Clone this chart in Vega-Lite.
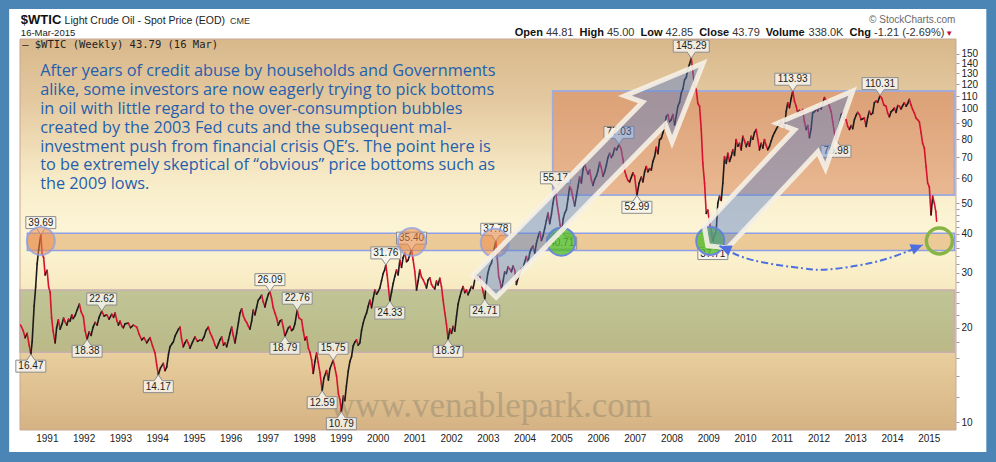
{
"$schema":"https://vega.github.io/schema/vega-lite/v6.json",
"width":936,"height":391,
"autosize":{"type":"none"},
"padding":{"left":20,"top":39,"right":40,"bottom":32},
"background":"#4a85b5",
"config":{"view":{"stroke":null},"font":"Liberation Sans"},
"datasets":{
"price":[
{"t":1990.288,"p":20.4},{"t":1990.356,"p":19.6},{"t":1990.41,"p":18.6},{"t":1990.464,"p":19.2},{"t":1990.519,"p":17.6},{"t":1990.565,"p":16.47},{"t":1990.6,"p":18.0},{"t":1990.655,"p":23.5},{"t":1990.696,"p":27.0},{"t":1990.736,"p":32.0},{"t":1990.777,"p":35.5},{"t":1990.837,"p":39.69},{"t":1990.872,"p":34.5},{"t":1990.913,"p":33.5},{"t":1990.954,"p":29.5},{"t":1991.008,"p":30.5},{"t":1991.049,"p":27.0},{"t":1991.09,"p":26.0},{"t":1991.131,"p":21.5},{"t":1991.171,"p":19.5},{"t":1991.226,"p":17.9},{"t":1991.267,"p":20.0},{"t":1991.315,"p":21.2},{"t":1991.362,"p":19.8},{"t":1991.416,"p":20.6},{"t":1991.457,"p":21.5},{"t":1991.498,"p":20.9},{"t":1991.544,"p":20.4},{"t":1991.593,"p":21.3},{"t":1991.634,"p":21.0},{"t":1991.68,"p":22.0},{"t":1991.715,"p":21.4},{"t":1991.77,"p":21.9},{"t":1991.824,"p":22.8},{"t":1991.886,"p":23.8},{"t":1991.933,"p":22.5},{"t":1991.995,"p":21.7},
{"t":1992.041,"p":19.6},{"t":1992.096,"p":18.38},{"t":1992.15,"p":19.4},{"t":1992.204,"p":18.9},{"t":1992.259,"p":20.1},{"t":1992.313,"p":20.8},{"t":1992.368,"p":20.4},{"t":1992.422,"p":21.6},{"t":1992.495,"p":22.62},{"t":1992.558,"p":21.8},{"t":1992.631,"p":22.0},{"t":1992.694,"p":21.3},{"t":1992.767,"p":22.1},{"t":1992.816,"p":21.6},{"t":1992.857,"p":22.3},{"t":1992.911,"p":21.0},{"t":1992.947,"p":20.4},{"t":1992.993,"p":21.0},
{"t":1993.047,"p":20.2},{"t":1993.083,"p":20.0},{"t":1993.129,"p":20.6},{"t":1993.219,"p":20.7},{"t":1993.278,"p":20.0},{"t":1993.355,"p":20.4},{"t":1993.447,"p":20.1},{"t":1993.51,"p":19.1},{"t":1993.583,"p":18.3},{"t":1993.645,"p":18.6},{"t":1993.719,"p":17.9},{"t":1993.768,"p":18.3},{"t":1993.809,"p":18.6},{"t":1993.877,"p":17.5},{"t":1993.945,"p":16.6},{"t":1993.991,"p":15.2},
{"t":1994.034,"p":14.17},{"t":1994.094,"p":14.9},{"t":1994.17,"p":15.4},{"t":1994.216,"p":14.6},{"t":1994.263,"p":15.0},{"t":1994.312,"p":16.5},{"t":1994.352,"p":17.4},{"t":1994.407,"p":17.8},{"t":1994.442,"p":18.0},{"t":1994.488,"p":18.8},{"t":1994.535,"p":19.3},{"t":1994.584,"p":19.8},{"t":1994.624,"p":20.1},{"t":1994.665,"p":18.5},{"t":1994.714,"p":17.4},{"t":1994.76,"p":17.9},{"t":1994.806,"p":18.3},{"t":1994.855,"p":17.8},{"t":1994.896,"p":17.2},{"t":1994.964,"p":18.0},
{"t":1995.032,"p":18.7},{"t":1995.1,"p":18.1},{"t":1995.168,"p":18.3},{"t":1995.222,"p":18.2},{"t":1995.277,"p":18.7},{"t":1995.331,"p":19.6},{"t":1995.394,"p":20.1},{"t":1995.44,"p":19.3},{"t":1995.486,"p":18.8},{"t":1995.53,"p":18.3},{"t":1995.576,"p":17.6},{"t":1995.622,"p":17.2},{"t":1995.671,"p":17.8},{"t":1995.712,"p":18.3},{"t":1995.758,"p":18.7},{"t":1995.807,"p":17.6},{"t":1995.848,"p":17.9},{"t":1995.894,"p":17.4},{"t":1995.943,"p":18.3},{"t":1995.984,"p":19.2},
{"t":1996.03,"p":20.1},{"t":1996.073,"p":18.9},{"t":1996.12,"p":17.9},{"t":1996.166,"p":19.2},{"t":1996.215,"p":20.8},{"t":1996.256,"p":22.3},{"t":1996.302,"p":23.0},{"t":1996.345,"p":21.9},{"t":1996.392,"p":21.2},{"t":1996.438,"p":20.8},{"t":1996.487,"p":20.2},{"t":1996.527,"p":19.8},{"t":1996.574,"p":21.0},{"t":1996.617,"p":22.8},{"t":1996.663,"p":22.0},{"t":1996.71,"p":23.3},{"t":1996.753,"p":24.5},{"t":1996.799,"p":24.9},{"t":1996.845,"p":25.4},{"t":1996.889,"p":24.2},{"t":1996.935,"p":23.3},{"t":1996.982,"p":24.6},
{"t":1997.03,"p":25.6},{"t":1997.071,"p":26.09},{"t":1997.117,"p":24.8},{"t":1997.161,"p":23.2},{"t":1997.207,"p":22.3},{"t":1997.253,"p":21.5},{"t":1997.297,"p":20.4},{"t":1997.344,"p":21.0},{"t":1997.389,"p":21.2},{"t":1997.433,"p":20.1},{"t":1997.479,"p":18.79},{"t":1997.525,"p":19.4},{"t":1997.574,"p":20.0},{"t":1997.615,"p":20.2},{"t":1997.661,"p":19.6},{"t":1997.705,"p":19.8},{"t":1997.751,"p":20.6},{"t":1997.813,"p":22.76},{"t":1997.86,"p":21.5},{"t":1997.933,"p":21.2},{"t":1997.977,"p":19.6},
{"t":1998.023,"p":18.3},{"t":1998.069,"p":18.7},{"t":1998.118,"p":17.2},{"t":1998.159,"p":16.7},{"t":1998.205,"p":15.8},{"t":1998.249,"p":14.3},{"t":1998.295,"p":15.6},{"t":1998.341,"p":16.6},{"t":1998.384,"p":15.5},{"t":1998.431,"p":14.4},{"t":1998.493,"p":12.59},{"t":1998.539,"p":13.8},{"t":1998.613,"p":14.6},{"t":1998.662,"p":13.6},{"t":1998.702,"p":14.8},{"t":1998.792,"p":15.75},{"t":1998.838,"p":14.9},{"t":1998.885,"p":14.0},{"t":1998.934,"p":12.3},{"t":1998.974,"p":11.8},
{"t":1999.015,"p":10.79},{"t":1999.07,"p":12.1},{"t":1999.11,"p":11.7},{"t":1999.151,"p":13.0},{"t":1999.2,"p":14.5},{"t":1999.246,"p":15.6},{"t":1999.293,"p":16.2},{"t":1999.336,"p":17.5},{"t":1999.382,"p":18.0},{"t":1999.428,"p":18.3},{"t":1999.472,"p":17.6},{"t":1999.518,"p":17.9},{"t":1999.564,"p":19.6},{"t":1999.608,"p":20.7},{"t":1999.654,"p":21.6},{"t":1999.7,"p":22.3},{"t":1999.744,"p":23.4},{"t":1999.79,"p":24.5},{"t":1999.836,"p":23.2},{"t":1999.88,"p":24.8},{"t":1999.926,"p":26.4},{"t":1999.972,"p":25.6},
{"t":2000.016,"p":26.1},{"t":2000.062,"p":26.8},{"t":2000.108,"p":28.3},{"t":2000.152,"p":29.8},{"t":2000.192,"p":30.6},{"t":2000.225,"p":31.76},{"t":2000.26,"p":29.5},{"t":2000.293,"p":27.1},{"t":2000.334,"p":24.33},{"t":2000.38,"p":26.0},{"t":2000.424,"p":27.7},{"t":2000.47,"p":29.2},{"t":2000.516,"p":30.6},{"t":2000.559,"p":29.5},{"t":2000.606,"p":32.9},{"t":2000.652,"p":31.2},{"t":2000.695,"p":33.5},{"t":2000.742,"p":34.6},{"t":2000.788,"p":32.5},{"t":2000.831,"p":32.9},{"t":2000.878,"p":34.3},{"t":2000.924,"p":35.4},{"t":2000.967,"p":33.0},
{"t":2001.014,"p":30.2},{"t":2001.06,"p":26.4},{"t":2001.103,"p":28.2},{"t":2001.149,"p":30.6},{"t":2001.196,"p":29.0},{"t":2001.239,"p":28.5},{"t":2001.285,"p":27.7},{"t":2001.332,"p":26.8},{"t":2001.375,"p":28.4},{"t":2001.421,"p":28.9},{"t":2001.468,"p":27.5},{"t":2001.511,"p":27.0},{"t":2001.557,"p":26.6},{"t":2001.603,"p":28.2},{"t":2001.647,"p":27.4},{"t":2001.693,"p":28.8},{"t":2001.739,"p":27.1},{"t":2001.783,"p":24.5},{"t":2001.83,"p":22.3},{"t":2001.875,"p":20.5},{"t":2001.919,"p":18.37},{"t":2001.966,"p":19.8},
{"t":2002.012,"p":19.2},{"t":2002.055,"p":20.2},{"t":2002.101,"p":19.5},{"t":2002.147,"p":21.7},{"t":2002.191,"p":23.8},{"t":2002.237,"p":25.1},{"t":2002.283,"p":26.2},{"t":2002.327,"p":27.1},{"t":2002.373,"p":25.9},{"t":2002.419,"p":26.4},{"t":2002.463,"p":25.5},{"t":2002.509,"p":26.3},{"t":2002.555,"p":27.1},{"t":2002.598,"p":26.7},{"t":2002.645,"p":28.4},{"t":2002.691,"p":29.5},{"t":2002.734,"p":28.3},{"t":2002.781,"p":29.1},{"t":2002.827,"p":27.6},{"t":2002.876,"p":26.0},{"t":2002.917,"p":24.71},{"t":2002.957,"p":27.5},{"t":2002.998,"p":29.8},
{"t":2003.053,"p":31.5},{"t":2003.099,"p":32.2},{"t":2003.142,"p":34.4},{"t":2003.183,"p":36.0},{"t":2003.216,"p":37.78},{"t":2003.256,"p":33.5},{"t":2003.297,"p":29.1},{"t":2003.338,"p":28.0},{"t":2003.371,"p":26.4},{"t":2003.414,"p":28.2},{"t":2003.46,"p":30.2},{"t":2003.506,"p":29.8},{"t":2003.55,"p":31.3},{"t":2003.596,"p":30.8},{"t":2003.642,"p":30.2},{"t":2003.686,"p":31.5},{"t":2003.732,"p":30.6},{"t":2003.778,"p":27.5},{"t":2003.822,"p":28.8},{"t":2003.868,"p":29.8},{"t":2003.914,"p":30.9},{"t":2003.958,"p":31.0},
{"t":2004.004,"p":32.5},{"t":2004.05,"p":33.8},{"t":2004.094,"p":32.2},{"t":2004.14,"p":34.7},{"t":2004.186,"p":35.8},{"t":2004.23,"p":36.5},{"t":2004.276,"p":34.6},{"t":2004.322,"p":37.2},{"t":2004.366,"p":39.0},{"t":2004.412,"p":40.5},{"t":2004.458,"p":38.0},{"t":2004.502,"p":39.3},{"t":2004.548,"p":41.5},{"t":2004.594,"p":44.0},{"t":2004.638,"p":46.5},{"t":2004.684,"p":43.0},{"t":2004.73,"p":46.0},{"t":2004.773,"p":50.0},{"t":2004.839,"p":55.17},{"t":2004.888,"p":49.5},{"t":2004.929,"p":46.0},{"t":2004.969,"p":42.5},
{"t":2005.01,"p":40.71},{"t":2005.051,"p":44.5},{"t":2005.092,"p":46.5},{"t":2005.138,"p":47.6},{"t":2005.181,"p":51.5},{"t":2005.227,"p":56.5},{"t":2005.274,"p":55.2},{"t":2005.317,"p":52.0},{"t":2005.363,"p":49.0},{"t":2005.41,"p":52.6},{"t":2005.453,"p":56.5},{"t":2005.499,"p":60.6},{"t":2005.546,"p":58.0},{"t":2005.589,"p":64.0},{"t":2005.635,"p":67.0},{"t":2005.682,"p":64.0},{"t":2005.725,"p":62.0},{"t":2005.771,"p":63.8},{"t":2005.817,"p":59.5},{"t":2005.861,"p":57.0},{"t":2005.908,"p":59.6},{"t":2005.953,"p":61.0},{"t":2005.997,"p":63.5},
{"t":2006.044,"p":67.5},{"t":2006.089,"p":65.0},{"t":2006.133,"p":61.0},{"t":2006.179,"p":63.0},{"t":2006.225,"p":66.0},{"t":2006.269,"p":70.0},{"t":2006.315,"p":72.2},{"t":2006.362,"p":70.0},{"t":2006.405,"p":71.5},{"t":2006.451,"p":75.0},{"t":2006.505,"p":74.0},{"t":2006.568,"p":77.03},{"t":2006.628,"p":74.5},{"t":2006.677,"p":69.0},{"t":2006.723,"p":63.5},{"t":2006.769,"p":61.0},{"t":2006.812,"p":59.1},{"t":2006.859,"p":58.5},{"t":2006.905,"p":60.5},{"t":2006.948,"p":62.5},{"t":2006.995,"p":61.0},
{"t":2007.057,"p":52.99},{"t":2007.117,"p":58.0},{"t":2007.177,"p":60.6},{"t":2007.22,"p":58.5},{"t":2007.267,"p":63.0},{"t":2007.313,"p":65.5},{"t":2007.356,"p":63.0},{"t":2007.402,"p":64.5},{"t":2007.449,"p":63.8},{"t":2007.492,"p":68.0},{"t":2007.538,"p":70.4},{"t":2007.585,"p":75.5},{"t":2007.628,"p":72.0},{"t":2007.674,"p":79.8},{"t":2007.72,"p":80.5},{"t":2007.764,"p":83.9},{"t":2007.81,"p":88.0},{"t":2007.856,"p":94.5},{"t":2007.9,"p":96.0},{"t":2007.946,"p":91.0},{"t":2007.992,"p":92.4},
{"t":2008.036,"p":96.0},{"t":2008.082,"p":89.0},{"t":2008.128,"p":95.0},{"t":2008.172,"p":102.0},{"t":2008.218,"p":105.0},{"t":2008.264,"p":112.4},{"t":2008.308,"p":116.0},{"t":2008.354,"p":124.0},{"t":2008.4,"p":126.0},{"t":2008.444,"p":134.0},{"t":2008.489,"p":139.0},{"t":2008.536,"p":145.29},{"t":2008.58,"p":131.0},{"t":2008.626,"p":118.0},{"t":2008.672,"p":115.2},{"t":2008.716,"p":104.0},{"t":2008.762,"p":102.0},{"t":2008.808,"p":86.0},{"t":2008.851,"p":67.0},{"t":2008.898,"p":57.9},{"t":2008.944,"p":46.4},{"t":2008.987,"p":47.5},
{"t":2009.034,"p":43.1},{"t":2009.08,"p":41.0},{"t":2009.123,"p":37.71},{"t":2009.169,"p":39.5},{"t":2009.216,"p":41.0},{"t":2009.259,"p":50.0},{"t":2009.305,"p":52.6},{"t":2009.352,"p":51.0},{"t":2009.395,"p":57.9},{"t":2009.441,"p":70.4},{"t":2009.488,"p":67.0},{"t":2009.531,"p":72.2},{"t":2009.577,"p":68.0},{"t":2009.623,"p":70.4},{"t":2009.667,"p":74.0},{"t":2009.713,"p":71.0},{"t":2009.759,"p":79.8},{"t":2009.803,"p":76.0},{"t":2009.849,"p":77.7},{"t":2009.895,"p":74.0},{"t":2009.939,"p":81.8},{"t":2009.985,"p":79.0},
{"t":2010.031,"p":75.8},{"t":2010.075,"p":78.5},{"t":2010.121,"p":76.0},{"t":2010.168,"p":81.8},{"t":2010.211,"p":80.0},{"t":2010.257,"p":84.0},{"t":2010.304,"p":86.0},{"t":2010.347,"p":80.0},{"t":2010.393,"p":74.0},{"t":2010.439,"p":77.7},{"t":2010.483,"p":75.0},{"t":2010.529,"p":79.8},{"t":2010.575,"p":76.5},{"t":2010.618,"p":74.1},{"t":2010.665,"p":76.0},{"t":2010.711,"p":79.0},{"t":2010.754,"p":81.8},{"t":2010.801,"p":84.0},{"t":2010.847,"p":86.0},{"t":2010.89,"p":88.0},{"t":2010.937,"p":89.0},{"t":2010.983,"p":91.5},
{"t":2011.026,"p":89.0},{"t":2011.072,"p":87.0},{"t":2011.119,"p":98.0},{"t":2011.162,"p":104.7},{"t":2011.208,"p":101.0},{"t":2011.255,"p":108.0},{"t":2011.298,"p":113.93},{"t":2011.344,"p":106.0},{"t":2011.391,"p":102.0},{"t":2011.434,"p":97.0},{"t":2011.48,"p":99.0},{"t":2011.526,"p":97.3},{"t":2011.57,"p":99.6},{"t":2011.616,"p":91.0},{"t":2011.662,"p":86.0},{"t":2011.706,"p":88.5},{"t":2011.752,"p":81.0},{"t":2011.798,"p":86.5},{"t":2011.842,"p":97.3},{"t":2011.888,"p":98.0},{"t":2011.934,"p":99.6},{"t":2011.978,"p":98.5},
{"t":2012.024,"p":102.0},{"t":2012.07,"p":100.0},{"t":2012.114,"p":103.5},{"t":2012.16,"p":108.7},{"t":2012.206,"p":106.5},{"t":2012.25,"p":105.9},{"t":2012.296,"p":102.0},{"t":2012.342,"p":98.0},{"t":2012.386,"p":91.0},{"t":2012.432,"p":84.0},{"t":2012.473,"p":79.98},{"t":2012.522,"p":87.0},{"t":2012.568,"p":90.2},{"t":2012.614,"p":96.0},{"t":2012.658,"p":97.3},{"t":2012.704,"p":92.4},{"t":2012.75,"p":92.4},{"t":2012.793,"p":88.0},{"t":2012.84,"p":86.0},{"t":2012.886,"p":88.5},{"t":2012.93,"p":86.5},{"t":2012.975,"p":92.4},
{"t":2013.022,"p":95.5},{"t":2013.065,"p":97.5},{"t":2013.112,"p":96.0},{"t":2013.158,"p":92.5},{"t":2013.202,"p":93.0},{"t":2013.247,"p":93.5},{"t":2013.293,"p":88.0},{"t":2013.337,"p":94.0},{"t":2013.383,"p":98.4},{"t":2013.429,"p":96.0},{"t":2013.473,"p":97.0},{"t":2013.519,"p":104.7},{"t":2013.565,"p":106.0},{"t":2013.609,"p":105.0},{"t":2013.674,"p":110.31},{"t":2013.723,"p":108.0},{"t":2013.777,"p":103.0},{"t":2013.837,"p":102.0},{"t":2013.881,"p":97.0},{"t":2013.927,"p":94.5},{"t":2013.973,"p":98.0},
{"t":2014.017,"p":99.0},{"t":2014.063,"p":100.7},{"t":2014.109,"p":97.5},{"t":2014.153,"p":102.5},{"t":2014.199,"p":102.0},{"t":2014.245,"p":100.0},{"t":2014.289,"p":102.5},{"t":2014.335,"p":104.7},{"t":2014.381,"p":102.0},{"t":2014.424,"p":104.0},{"t":2014.471,"p":107.3},{"t":2014.517,"p":103.0},{"t":2014.56,"p":99.6},{"t":2014.607,"p":97.0},{"t":2014.653,"p":93.5},{"t":2014.696,"p":92.4},{"t":2014.743,"p":91.0},{"t":2014.789,"p":84.0},{"t":2014.832,"p":77.7},{"t":2014.878,"p":75.0},{"t":2014.925,"p":65.5},{"t":2014.968,"p":58.0},
{"t":2015.014,"p":56.4},{"t":2015.061,"p":45.9},{"t":2015.104,"p":52.6},{"t":2015.15,"p":50.0},{"t":2015.191,"p":47.0},{"t":2015.213,"p":43.79}
],
"labels":[
{"t":1990.837,"p":39.69,"k":"hi","l":"39.69"},{"t":1990.565,"p":16.47,"k":"lo","l":"16.47"},{"t":1992.495,"p":22.62,"k":"hi","l":"22.62"},{"t":1992.096,"p":18.38,"k":"lo","l":"18.38"},{"t":1994.034,"p":14.17,"k":"lo","l":"14.17"},{"t":1997.071,"p":26.09,"k":"hi","l":"26.09"},{"t":1997.479,"p":18.79,"k":"lo","l":"18.79"},{"t":1997.813,"p":22.76,"k":"hi","l":"22.76"},{"t":1998.493,"p":12.59,"k":"lo","l":"12.59"},{"t":1998.792,"p":15.75,"k":"hi","l":"15.75"},{"t":1999.015,"p":10.79,"k":"lo","l":"10.79"},{"t":2000.225,"p":31.76,"k":"hi","l":"31.76"},{"t":2000.334,"p":24.33,"k":"lo","l":"24.33"},{"t":2000.924,"p":35.4,"k":"hi","l":"35.40"},{"t":2001.919,"p":18.37,"k":"lo","l":"18.37"},{"t":2003.216,"p":37.78,"k":"hi","l":"37.78"},{"t":2002.917,"p":24.71,"k":"lo","l":"24.71"},{"t":2004.839,"p":55.17,"k":"hi","l":"55.17"},{"t":2005.01,"p":40.71,"k":"lo","l":"40.71"},{"t":2006.568,"p":77.03,"k":"hi","l":"77.03"},{"t":2007.057,"p":52.99,"k":"lo","l":"52.99"},{"t":2008.536,"p":145.29,"k":"hi6","l":"145.29"},{"t":2009.123,"p":37.71,"k":"lo","l":"37.71"},{"t":2011.298,"p":113.93,"k":"hi6","l":"113.93"},{"t":2012.473,"p":79.98,"k":"lo","l":"79.98"},{"t":2013.674,"p":110.31,"k":"hi6","l":"110.31"}
],
"ohlc":[
{"t":2003.7325,"p":171.1,"s":"Open","k":"name"},{"t":2004.5808,"p":171.1,"s":"44.81","k":"val"},{"t":2005.4943,"p":171.1,"s":"High","k":"name"},{"t":2006.242,"p":171.1,"s":"45.00","k":"val"},{"t":2007.1555,"p":171.1,"s":"Low","k":"name"},{"t":2007.838,"p":171.1,"s":"42.85","k":"val"},{"t":2008.7515,"p":171.1,"s":"Close","k":"name"},{"t":2009.6515,"p":171.1,"s":"43.79","k":"val"},{"t":2010.565,"p":171.1,"s":"Volume","k":"name"},{"t":2011.7287,"p":171.1,"s":"338.0K","k":"val"},{"t":2012.8434,"p":171.1,"s":"Chg","k":"name"},{"t":2013.5096,"p":171.1,"s":"-1.21 (-2.69%)","k":"val"}
]
},
"encoding":{
"x":{"field":"t","type":"quantitative","scale":{"domain":[1990.27,2015.74],"nice":false,"zero":false},
"axis":{"values":[1991,1992,1993,1994,1995,1996,1997,1998,1999,2000,2001,2002,2003,2004,2005,2006,2007,2008,2009,2010,2011,2012,2013,2014,2015],"format":"d","title":null,"grid":false,"domain":false,"ticks":false,"tickSize":0,"labelPadding":3,"labelFontSize":10,"labelColor":"#222222","labelFlush":false,"labelOverlap":false,"zindex":1}},
"y":{"field":"p","type":"quantitative","scale":{"type":"log","domain":[9.43,167.3],"nice":false},
"axis":{"orient":"right","values":[10,12,14,16,18,20,22,24,26,28,30,32,34,36,38,40,42,44,46,48,50,60,70,80,90,100,110,120,130,140,150],"format":"d","labelExpr":"indexof([10,20,30,40,50,60,70,80,90,100,110,120,130,140,150], datum.value) >= 0 ? datum.label : ''","title":null,"grid":false,"domain":false,"tickSize":3,"tickColor":"#9a9a9a","labelPadding":2,"labelFontSize":10,"labelColor":"#222222","labelOverlap":false,"labelBound":false,"zindex":1}}
},
"layer":[
{"data":{"values":[{"t":1989.975,"t2":2016.565,"p":8.02,"p2":208.7}]},"mark":{"type":"rect","fill":"#ffffff"},"encoding":{"x2":{"field":"t2"},"y2":{"field":"p2"}}},
{"data":{"values":[{"t":1990.27,"t2":2015.74,"p":9.43,"p2":167.3}]},"mark":{"type":"rect","fill":{"gradient":"linear","x1":0,"y1":0,"x2":0,"y2":1,"stops":[{"offset":0,"color":"#d8b88b"},{"offset":0.16,"color":"#e4c9a0"},{"offset":0.38,"color":"#f9eecb"},{"offset":0.5,"color":"#fcf5d6"},{"offset":0.62,"color":"#f8ecc4"},{"offset":0.8,"color":"#e9cf9e"},{"offset":1,"color":"#d5b283"}]},"stroke":"#c6a797","strokeWidth":1},"encoding":{"x2":{"field":"t2"},"y2":{"field":"p2"}}},
{"data":{"values":[{"t":2003.08,"p":10.37,"s":"www.venablepark.com"}]},"mark":{"type":"text","font":"Liberation Serif","fontSize":35,"align":"center","baseline":"alphabetic","color":"#857d6c","opacity":0.4},"encoding":{"text":{"field":"s"}}},
{"data":{"values":[{"t":1990.27,"t2":2015.7,"p":16.7,"p2":26.4}]},"mark":{"type":"rect","fill":"#94a875","fillOpacity":0.55,"stroke":"#c8aeae","strokeWidth":1.5},"encoding":{"x2":{"field":"t2"},"y2":{"field":"p2"}}},
{"data":{"values":[{"t":1990.47,"t2":2015.7,"p":35.3,"p2":40.1}]},"mark":{"type":"rect","fill":"#d99a50","fillOpacity":0.45,"stroke":"#8fa0e8","strokeWidth":1.5},"encoding":{"x2":{"field":"t2"},"y2":{"field":"p2"}}},
{"data":{"values":[{"t":2004.77,"t2":2015.7,"p":53.1,"p2":114.2}]},"mark":{"type":"rect","fill":"#d67a50","fillOpacity":0.48,"stroke":"#a3acd8","strokeWidth":2},"encoding":{"x2":{"field":"t2"},"y2":{"field":"p2"}}},
{"data":{"name":"price"},"transform":[{"window":[{"op":"lead","field":"t","as":"t2"},{"op":"lead","field":"p","as":"p2"}],"sort":[{"field":"t","order":"ascending"}]},{"filter":"isValid(datum.t2)"}],"mark":{"type":"rule","strokeWidth":1.6,"strokeCap":"round"},"encoding":{"x2":{"field":"t2"},"y2":{"field":"p2"},"color":{"condition":{"test":"datum.p2 > datum.p","value":"#1b1b1b"},"value":"#d6122e"}}},
{"data":{"name":"labels"},"transform":[{"filter":"datum.k == 'hi'"}],"mark":{"type":"point","shape":"M-15,-18 L15,-18 L15,-6 L4,-6 L0,0 L-4,-6 L-15,-6 Z","size":4,"filled":true,"fill":"#f8f6f1","fillOpacity":0.8,"stroke":"#8c8c8c","strokeWidth":1,"opacity":1}},
{"data":{"name":"labels"},"transform":[{"filter":"datum.k == 'hi6'"}],"mark":{"type":"point","shape":"M-18,-18 L18,-18 L18,-6 L4,-6 L0,0 L-4,-6 L-18,-6 Z","size":4,"filled":true,"fill":"#f8f6f1","fillOpacity":0.8,"stroke":"#8c8c8c","strokeWidth":1,"opacity":1}},
{"data":{"name":"labels"},"transform":[{"filter":"datum.k == 'lo'"}],"mark":{"type":"point","shape":"M-15,18 L15,18 L15,6 L4,6 L0,0 L-4,6 L-15,6 Z","size":4,"filled":true,"fill":"#f8f6f1","fillOpacity":0.8,"stroke":"#8c8c8c","strokeWidth":1,"opacity":1}},
{"data":{"name":"labels"},"transform":[{"filter":"datum.k != 'lo'"}],"mark":{"type":"text","dy":-12,"fontSize":10,"color":"#1e1e1e","baseline":"middle","align":"center"},"encoding":{"text":{"field":"l"}}},
{"data":{"name":"labels"},"transform":[{"filter":"datum.k == 'lo'"}],"mark":{"type":"text","dy":12,"fontSize":10,"color":"#1e1e1e","baseline":"middle","align":"center"},"encoding":{"text":{"field":"l"}}},
{"data":{"values":[{"t":1990.837,"p":37.87},{"t":2000.932,"p":37.6},{"t":2003.189,"p":37.35}]},"mark":{"type":"point","shape":"circle","size":784,"filled":true,"fill":"#ec8d4a","fillOpacity":0.55,"stroke":"#8ea0e6","strokeWidth":2,"strokeOpacity":0.75,"opacity":1}},
{"data":{"values":[{"t":2005.002,"p":37.67},{"t":2009.053,"p":37.9}]},"mark":{"type":"point","shape":"circle","size":784,"filled":true,"fill":"#52bd2c","fillOpacity":0.78,"stroke":"#6b86dd","strokeWidth":2,"opacity":1}},
{"data":{"values":[{"t":2015.288,"p":37.9}]},"mark":{"type":"point","shape":"circle","size":676,"filled":false,"stroke":"#88b446","strokeWidth":3.5,"opacity":1}},
{"data":{"values":[{"t":2005.886,"p":61.67}]},"mark":{"type":"point","shape":"M-156,-16 L86,-16 L78,-33 L156,0 L78,33 L86,16 L-156,16 Z","size":4,"angle":314.4,"filled":true,"fill":"#5a80c8","fillOpacity":0.45,"stroke":"#f6f1e6","strokeOpacity":0.9,"strokeWidth":5,"strokeJoin":"miter","opacity":1}},
{"data":{"values":[{"t":2010.957,"p":64.55}]},"mark":{"type":"point","shape":"M-94,-16 L38,-16 L31,-33 L106,0 L31,33 L38,16 L-94,16 L-106,0 Z","size":4,"angle":313.15,"filled":true,"fill":"#5a80c8","fillOpacity":0.45,"stroke":"#f6f1e6","strokeOpacity":0.9,"strokeWidth":5,"strokeJoin":"miter","opacity":1}},
{"data":{"values":[{"t":2009.305,"p":36.5},{"t":2010.212,"p":32.9},{"t":2011.571,"p":30.97},{"t":2012.297,"p":30.74},{"t":2013.384,"p":32.14},{"t":2014.29,"p":34.6},{"t":2014.834,"p":36.8}]},"mark":{"type":"line","interpolate":"natural","stroke":"#4d6fe0","strokeWidth":2,"strokeDash":[7,3,2,3]},"encoding":{}},
{"data":{"values":[{"t":2009.305,"p":36.5}]},"mark":{"type":"point","shape":"M0,0 L-12,-5.5 L-12,5.5 Z","size":4,"angle":203,"filled":true,"fill":"#4d6fe0","opacity":1}},
{"data":{"values":[{"t":2014.834,"p":36.8}]},"mark":{"type":"point","shape":"M0,0 L-12,-5.5 L-12,5.5 Z","size":4,"angle":338,"filled":true,"fill":"#4d6fe0","opacity":1}},
{"data":{"values":[{"t":1990.818,"p":139.8,"s":"After years of credit abuse by households and Governments\nalike, some investors are now eagerly trying to pick bottoms\nin oil with little regard to the over-consumption bubbles\ncreated by the 2003 Fed cuts and the subsequent mal-\ninvestment push from financial crisis QE’s. The point here is\nto be extremely skeptical of “obvious” price bottoms such as\nthe 2009 lows."}]},"mark":{"type":"text","align":"left","baseline":"top","font":"Open Sans","fontSize":16.3,"lineHeight":18.8,"lineBreak":"\n","color":"#1f5fae"},"encoding":{"text":{"field":"s"}}},
{"data":{"values":[{"t":1990.3285,"p":160.2,"s":"— $WTIC (Weekly) 43.79 (16 Mar)"}]},"mark":{"type":"text","align":"left","baseline":"middle","font":"DejaVu Sans Mono","fontSize":10.5,"color":"#222222"},"encoding":{"text":{"field":"s"}}},
{"data":{"values":[{"t":1990.293,"p":186.9,"s":"$WTIC"}]},"mark":{"type":"text","align":"left","baseline":"alphabetic","fontSize":13,"fontWeight":"bold","color":"#111111"},"encoding":{"text":{"field":"s"}}},
{"data":{"values":[{"t":1991.484,"p":186.9,"s":"Light Crude Oil - Spot Price (EOD)"}]},"mark":{"type":"text","align":"left","baseline":"alphabetic","fontSize":10.5,"color":"#222222"},"encoding":{"text":{"field":"s"}}},
{"data":{"values":[{"t":1995.984,"p":186.9,"s":"CME"}]},"mark":{"type":"text","align":"left","baseline":"alphabetic","fontSize":9,"color":"#333333"},"encoding":{"text":{"field":"s"}}},
{"data":{"values":[{"t":1990.293,"p":171.1,"s":"16-Mar-2015"}]},"mark":{"type":"text","align":"left","baseline":"alphabetic","fontSize":9.5,"color":"#222222"},"encoding":{"text":{"field":"s"}}},
{"data":{"values":[{"t":2015.7227,"p":188.3,"s":"© StockCharts.com"}]},"mark":{"type":"text","align":"right","baseline":"alphabetic","fontSize":10,"color":"#6a6a6a"},"encoding":{"text":{"field":"s"}}},
{"data":{"name":"ohlc"},"transform":[{"filter":"datum.k == 'name'"}],"mark":{"type":"text","align":"left","baseline":"alphabetic","fontSize":11,"fontWeight":"bold","color":"#111111"},"encoding":{"text":{"field":"s"}}},
{"data":{"name":"ohlc"},"transform":[{"filter":"datum.k == 'val'"}],"mark":{"type":"text","align":"left","baseline":"alphabetic","fontSize":11,"color":"#333333"},"encoding":{"text":{"field":"s"}}},
{"data":{"values":[{"t":2015.4508,"p":171.1,"s":"▼"}]},"mark":{"type":"text","align":"left","baseline":"alphabetic","fontSize":8,"color":"#c0103a"},"encoding":{"text":{"field":"s"}}}
]
}
